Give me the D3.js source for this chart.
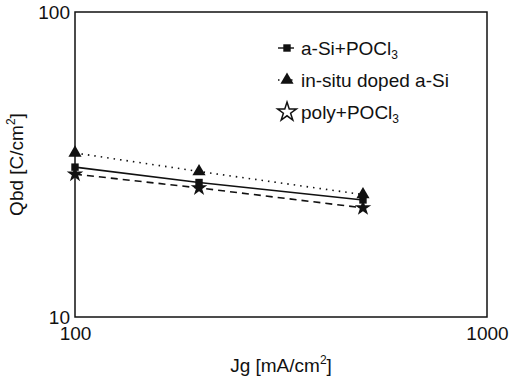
<!DOCTYPE html>
<html>
<head>
<meta charset="utf-8">
<script src="https://cdn.jsdelivr.net/npm/d3@7"></script>
<style>
  body { margin: 0; background: #fff; }
  text { font-family: "Liberation Sans", Arial, sans-serif; fill: #111; }
</style>
</head>
<body>
<div id="chart"></div>
<script>
// data
var jg = [100, 200, 500];
var aSiPOCl3 = [31.0, 27.6, 24.2];
var insituASi = [34.5, 30.0, 25.2];
var polyPOCl3 = [29.4, 26.5, 22.8];
var xTicks = [100, 1000];
var yTicks = [10, 100];

var width = 511, height = 387,
    margin = {top: 12, right: 24, bottom: 70, left: 75},
    innerWidth = width - margin.left - margin.right,
    innerHeight = height - margin.top - margin.bottom;

var xScale = d3.scaleLog().domain([100, 1000]).range([0, innerWidth]);
var yScale = d3.scaleLog().domain([10, 100]).range([innerHeight, 0]);

var svg = d3.select('#chart').append('svg')
  .attr('width', width)
  .attr('height', height);

var g = svg.append('g')
  .attr('transform', 'translate(' + margin.left + ',' + margin.top + ')');

// frame
g.append('rect')
  .attr('width', innerWidth)
  .attr('height', innerHeight)
  .attr('fill', 'none')
  .attr('stroke', '#111')
  .attr('stroke-width', 1.5);

var xAxis = d3.axisBottom(xScale).tickValues(xTicks).tickSize(0).tickPadding(10)
  .tickFormat(d3.format('d'));
g.append('g')
  .attr('transform', 'translate(0,' + innerHeight + ')')
  .call(xAxis)
  .call(function (s) { s.select('.domain').remove(); })
  .selectAll('text')
  .style('font-size', '19px');

var yAxis = d3.axisLeft(yScale).tickValues(yTicks).tickSize(0).tickPadding(5)
  .tickFormat(d3.format('d'));
g.append('g')
  .call(yAxis)
  .call(function (s) { s.select('.domain').remove(); })
  .selectAll('text')
  .style('font-size', '19px');

// axis titles
var xt = svg.append('text')
  .attr('x', 281).attr('y', 372)
  .attr('text-anchor', 'middle')
  .style('font-size', '19px');
xt.append('tspan').text('Jg [mA/cm');
xt.append('tspan').attr('dy', -8).style('font-size', '12px').text('2');
xt.append('tspan').attr('dy', 8).text(']');

var yt = svg.append('text')
  .attr('transform', 'translate(23,' + (margin.top + innerHeight / 2) + ') rotate(-90)')
  .attr('text-anchor', 'middle')
  .style('font-size', '19px');
yt.append('tspan').text('Qbd [C/cm');
yt.append('tspan').attr('dy', -8).style('font-size', '12px').text('2');
yt.append('tspan').attr('dy', 8).text(']');

var series = [
  {name: 'a-Si+POCl', sub: '3', values: aSiPOCl3, dash: null, symbol: d3.symbolSquare, size: 55, hollowKey: false},
  {name: 'in-situ doped a-Si', sub: '', values: insituASi, dash: '1.5,5', symbol: d3.symbolTriangle, size: 75, hollowKey: false},
  {name: 'poly+POCl', sub: '3', values: polyPOCl3, dash: '7,5', symbol: d3.symbolStar, size: 85, hollowKey: true}
];

var line = d3.line()
  .x(function (d, i) { return xScale(jg[i]); })
  .y(function (d) { return yScale(d); });

series.forEach(function (s) {
  g.append('path')
    .datum(s.values)
    .attr('d', line)
    .attr('fill', 'none')
    .attr('stroke', '#111')
    .attr('stroke-width', 1.6)
    .attr('stroke-dasharray', s.dash);

  g.selectAll(null)
    .data(s.values)
    .enter()
    .append('path')
    .attr('transform', function (d, i) { return 'translate(' + xScale(jg[i]) + ',' + yScale(d) + ')'; })
    .attr('d', d3.symbol().type(s.symbol).size(s.size))
    .attr('fill', '#111');
});

// legend
var legend = svg.append('g').attr('transform', 'translate(287,48)');
series.forEach(function (s, i) {
  var row = legend.append('g').attr('transform', 'translate(0,' + (i * 32) + ')');
  if (!s.hollowKey) {
    row.append('line')
      .attr('x1', -9).attr('x2', 7)
      .attr('stroke', '#111')
      .attr('stroke-width', 1.4)
      .attr('stroke-dasharray', s.dash);
  }
  row.append('path')
    .attr('d', d3.symbol().type(s.symbol).size(s.hollowKey ? 110 : s.size))
    .attr('fill', s.hollowKey ? 'none' : '#111')
    .attr('stroke', '#111')
    .attr('stroke-width', s.hollowKey ? 1.5 : 0);
  var t = row.append('text')
    .attr('x', 14).attr('y', 7)
    .style('font-size', '19px');
  t.append('tspan').text(s.name);
  if (s.sub) t.append('tspan').attr('dy', 4).style('font-size', '12px').text(s.sub);
});
</script>
</body>
</html>
